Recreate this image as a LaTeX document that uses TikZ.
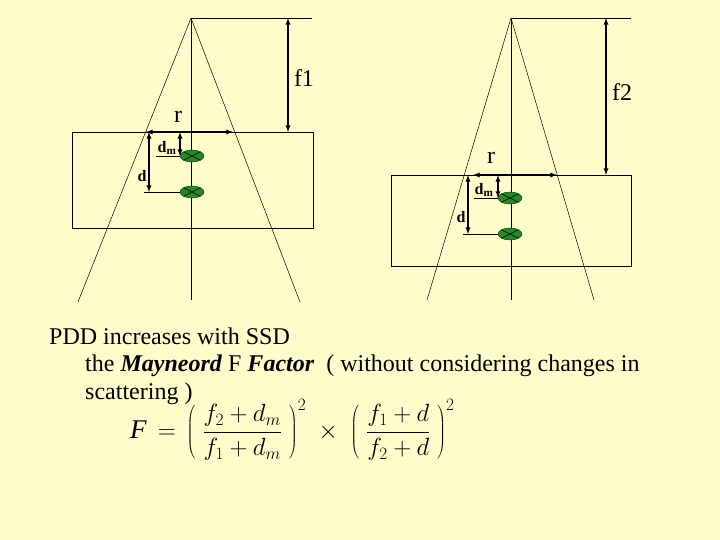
\documentclass[tikz,border=0pt]{standalone}
\usepackage{fontspec}
\setmainfont{Liberation Serif}
\usetikzlibrary{shapes.geometric}
\begin{document}
\begin{tikzpicture}[x=1pt,y=-1pt,
  ln/.style={line width=0.7pt},
  thin/.style={line width=0.5pt},
  darr/.style={line width=1.3pt,latex-latex},
  dot/.style={ellipse,draw=black!80!green,fill=green!45!black!85,minimum width=24pt,minimum height=12pt,inner sep=0pt,path picture={\draw[black,line width=0.5pt] (path picture bounding box.north west)--(path picture bounding box.south east) (path picture bounding box.south west)--(path picture bounding box.north east);}},
  lbl/.style={font=\fontsize{24}{28}\selectfont,inner sep=0pt},
  sm/.style={font=\fontsize{16}{18}\selectfont\bfseries,inner sep=0pt}]
\fill[yellow!20] (0,0) rectangle (720,540);
\useasboundingbox (0,0) rectangle (720,540);
% left diagram
\coordinate (A1) at (191,18);
\coordinate (T1) at (312,18);
\draw[ln] (A1)--(T1);
\draw[thin] (A1)--(78,302) (A1)--(300,302);
\draw[ln] (A1)--(191,300);
\draw[ln] (72,132) rectangle (313,228);
\draw[darr] (288,18)--(288,132);
\node[lbl] (f1) at (304,78) {f1};
\draw[darr] (146,132)--(233,132);
\node[lbl] (r1) at (178,117) {r};
\node[dot] (e1) at (192,156) {};
\node[dot] (e2) at (192,192) {};
\draw[thin] (156,156)--(e1.west) (144,192)--(e2.west);
\draw[darr] (180,132)--(180,156);
\draw[darr] (149,132)--(149,192);
\node[sm] (dm1) at (167,148) {d$_{\mathbf m}$};
\node[sm] (d1) at (142,176) {d};
% right diagram
\coordinate (A2) at (511,18);
\draw[ln] (A2)--(631,18);
\draw[thin] (A2)--(427,300) (A2)--(594,300);
\draw[ln] (A2)--(511,300);
\draw[ln] (391,175) rectangle (631,266);
\draw[darr] (606,18)--(606,175);
\node[lbl] (f2) at (622,92) {f2};
\draw[darr] (473,175)--(557,175);
\node[lbl] (r2) at (491,158) {r};
\node[dot] (e3) at (510,198) {};
\node[dot] (e4) at (510,234) {};
\draw[thin] (474,198)--(e3.west) (463,234)--(e4.west);
\draw[darr] (498,175)--(498,198);
\draw[darr] (468,175)--(468,234);
\node[sm] (dm2) at (484,190) {d$_{\mathbf m}$};
\node[sm] (d2) at (461,217) {d};
% text
\node[lbl,anchor=west] (t1) at (49,336) {PDD increases with SSD};
\node[lbl,anchor=west] (t2) at (85,366) {the \textbf{\textit{Mayneord}} F \textbf{\textit{Factor}}\ \ ( without considering changes in};
\node[lbl,anchor=west] (t3) at (85,394) {scattering )};
\node[anchor=west,inner sep=0pt,font=\fontsize{27}{30}\selectfont] (eq) at (130,430) {$\displaystyle \mathbf{\mathit{F}}\,=\,\left(\;\frac{f_2+d_m}{f_1+d_m}\;\right)^{2}\;\times\;\left(\;\frac{f_1+d}{f_2+d}\;\right)^{2}$};
\end{tikzpicture}
\end{document}
